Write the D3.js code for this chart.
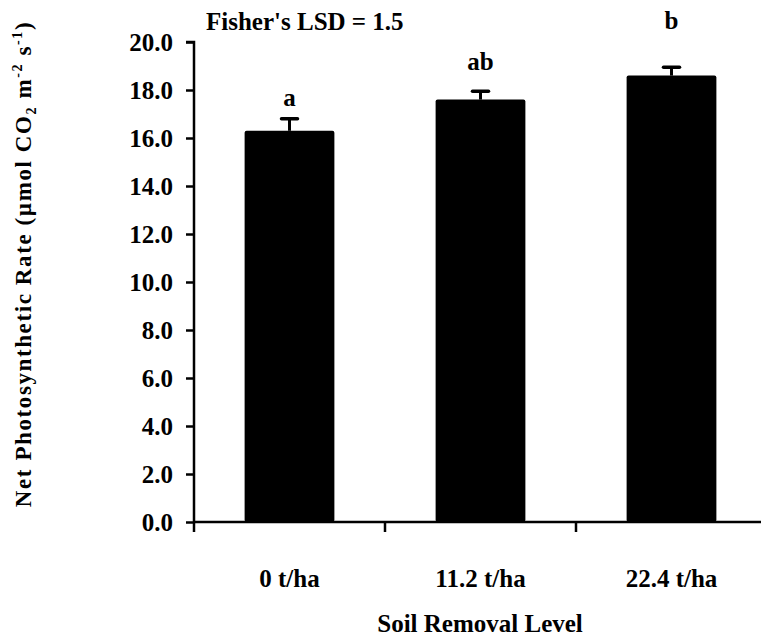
<!DOCTYPE html>
<html>
<head>
<meta charset="utf-8">
<script src="https://cdn.jsdelivr.net/npm/d3@7"></script>
<style>
  html, body { margin: 0; padding: 0; background: #fff; }
  svg { display: block; }
  text { font-family: "Liberation Serif", "Times New Roman", serif; font-weight: bold; fill: #000; }
</style>
</head>
<body>
<svg id="chart" width="761" height="636"></svg>
<script>
// Soil removal treatments and their mean net photosynthetic rates
const categories = ["0 t/ha", "11.2 t/ha", "22.4 t/ha"];
const rates = [16.3, 17.6, 18.6];
const errors = [0.5, 0.35, 0.35];
const groupLetters = ["a", "ab", "b"];
const yTicks = [0, 2, 4, 6, 8, 10, 12, 14, 16, 18, 20];

// How far each mean-separation letter sits above its error bar (px)
const letterLift = [13, 21, 38];

const svg = d3.select("#chart");

const x = d3.scaleBand()
  .domain(categories)
  .range([194, 767])
  .paddingInner(0.53)
  .paddingOuter(0.265);

const y = d3.scaleLinear()
  .domain([0, 20])
  .range([522, 42]);

// Y axis
const yAxis = svg.append("g")
  .attr("transform", "translate(194,0)")
  .call(d3.axisLeft(y).tickValues(yTicks).tickFormat(d3.format(".1f")).tickSize(8).tickPadding(13));
yAxis.select(".domain").attr("stroke-width", 2.5).attr("d", "M-8,42H0V522");
yAxis.selectAll(".tick line").attr("stroke-width", 2.5);
yAxis.selectAll(".tick text").style("font-size", "25px").attr("dy", "0.35em");

// X axis with ticks at the band boundaries
const xAxis = svg.append("g").attr("transform", "translate(0,522)");
xAxis.append("line")
  .attr("x1", 194).attr("x2", 767)
  .attr("stroke", "#000").attr("stroke-width", 2.5);
const step = x.step();
const bounds = [0, 1, 2].map(i => x.range()[0] + i * step);
xAxis.selectAll("line.tk")
  .data(bounds)
  .join("line")
  .attr("class", "tk")
  .attr("x1", d => d).attr("x2", d => d)
  .attr("y1", 0).attr("y2", 10)
  .attr("stroke", "#000").attr("stroke-width", 2.5);
xAxis.selectAll("text.cat")
  .data(categories)
  .join("text")
  .attr("class", "cat")
  .attr("x", d => x(d) + x.bandwidth() / 2)
  .attr("y", 65)
  .attr("text-anchor", "middle")
  .style("font-size", "25px")
  .text(d => d);

// Bars
const data = categories.map((c, i) => ({ c, v: rates[i], e: errors[i], g: groupLetters[i], lift: letterLift[i] }));
svg.selectAll("rect.bar")
  .data(data)
  .join("rect")
  .attr("class", "bar")
  .attr("x", d => x(d.c))
  .attr("y", d => y(d.v))
  .attr("width", x.bandwidth())
  .attr("height", d => y(0) - y(d.v))
  .attr("rx", 2)
  .attr("fill", "#000");

// Upper error bars
const eb = svg.selectAll("g.err").data(data).join("g").attr("class", "err");
eb.append("line")
  .attr("x1", d => x(d.c) + x.bandwidth() / 2)
  .attr("x2", d => x(d.c) + x.bandwidth() / 2)
  .attr("y1", d => y(d.v))
  .attr("y2", d => y(d.v + d.e))
  .attr("stroke", "#000").attr("stroke-width", 3);
eb.append("line")
  .attr("x1", d => x(d.c) + x.bandwidth() / 2 - 8)
  .attr("x2", d => x(d.c) + x.bandwidth() / 2 + 8)
  .attr("y1", d => y(d.v + d.e))
  .attr("y2", d => y(d.v + d.e))
  .attr("stroke", "#000").attr("stroke-width", 3.5).attr("stroke-linecap", "round");

// Mean separation letters
svg.selectAll("text.grp")
  .data(data)
  .join("text")
  .attr("class", "grp")
  .attr("x", d => x(d.c) + x.bandwidth() / 2)
  .attr("y", d => y(d.v + d.e) - d.lift)
  .attr("text-anchor", "middle")
  .style("font-size", "25px")
  .text(d => d.g);

// LSD annotation
svg.append("text")
  .attr("x", 206).attr("y", 30)
  .style("font-size", "25px")
  .text("Fisher's LSD = 1.5");

// Axis titles
svg.append("text")
  .attr("x", 480).attr("y", 632)
  .attr("text-anchor", "middle")
  .style("font-size", "25px")
  .text("Soil Removal Level");

const yt = svg.append("text")
  .attr("transform", "translate(31,264) rotate(-90)")
  .attr("text-anchor", "middle")
  .style("font-size", "23px")
  .style("letter-spacing", "1.6px");
yt.append("tspan").text("Net Photosynthetic Rate (\u00b5mol CO");
yt.append("tspan").attr("dy", 5).style("font-size", "14px").text("2");
yt.append("tspan").attr("dy", -5).text(" m");
yt.append("tspan").attr("dy", -9).style("font-size", "14px").text("-2");
yt.append("tspan").attr("dy", 9).text(" s");
yt.append("tspan").attr("dy", -9).style("font-size", "14px").text("-1");
yt.append("tspan").attr("dy", 9).text(")");
</script>
</body>
</html>
